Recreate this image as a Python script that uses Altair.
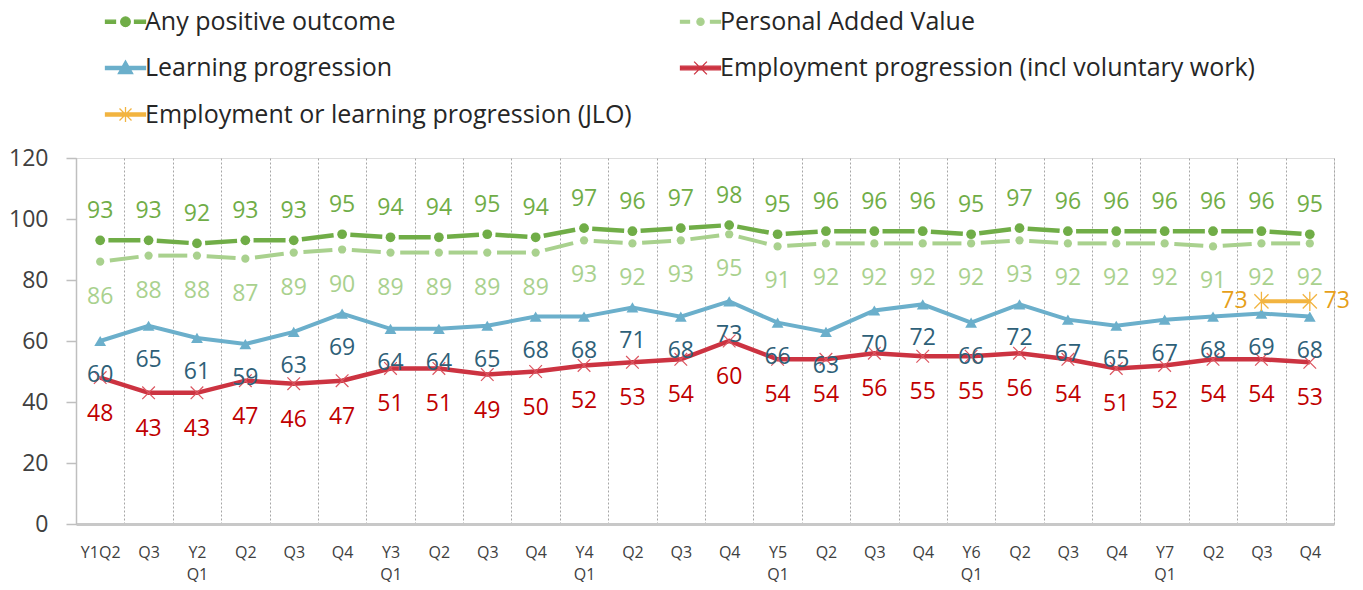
import json
import altair as alt
import pandas as pd

# ---------------- data ----------------
x_labels = ["Y1Q2", "Q3", "Y2|Q1", "Q2", "Q3", "Q4", "Y3|Q1", "Q2", "Q3", "Q4",
            "Y4|Q1", "Q2", "Q3", "Q4", "Y5|Q1", "Q2", "Q3", "Q4", "Y6|Q1", "Q2",
            "Q3", "Q4", "Y7|Q1", "Q2", "Q3", "Q4"]

series_names = ["Any positive outcome", "Personal Added Value", "Learning progression",
                "Employment progression (incl voluntary work)",
                "Employment or learning progression (JLO)"]

any_positive = [93, 93, 92, 93, 93, 95, 94, 94, 95, 94, 97, 96, 97, 98, 95, 96, 96, 96, 95, 97, 96, 96, 96, 96, 96, 95]
pav = [86, 88, 88, 87, 89, 90, 89, 89, 89, 89, 93, 92, 93, 95, 91, 92, 92, 92, 92, 93, 92, 92, 92, 91, 92, 92]
learning = [60, 65, 61, 59, 63, 69, 64, 64, 65, 68, 68, 71, 68, 73, 66, 63, 70, 72, 66, 72, 67, 65, 67, 68, 69, 68]
employment = [48, 43, 43, 47, 46, 47, 51, 51, 49, 50, 52, 53, 54, 60, 54, 54, 56, 55, 55, 56, 54, 51, 52, 54, 54, 53]
jlo_idx = [24, 25]
jlo = [73, 73]
jlo_label_side = ["left", "right"]

line_colors = ["#70AD47", "#A9D18E", "#6BAFCB", "#CC3341", "#F2B440"]
label_colors = ["#70AD47", "#A9D18E", "#2E6078", "#C00000", "#E69F1A"]

FONT = "Open Sans"
W, H = 1258, 366

# ---------------- tables ----------------
def series_df(name, values, idxs=None):
    idxs = list(range(len(values))) if idxs is None else idxs
    return pd.DataFrame({"idx": idxs, "value": values, "series": name})

def segments_df(name, values):
    rows = []
    for k in range(len(values) - 1):
        rows.append({"seg": k, "idx": k, "value": values[k], "series": name})
        rows.append({"seg": k, "idx": k + 1, "value": values[k + 1], "series": name})
    return pd.DataFrame(rows)

d_any = series_df(series_names[0], any_positive)
d_pav = series_df(series_names[1], pav)
d_learn = series_df(series_names[2], learning)
d_emp = series_df(series_names[3], employment)
d_jlo = series_df(series_names[4], jlo, jlo_idx)
d_jlo["side"] = jlo_label_side
d_all = pd.concat([d_any, d_pav, d_learn, d_emp, d_jlo], ignore_index=True)

label_expr = ("isValid(datum.value) && datum.value < " + str(len(x_labels)) +
              " ? split(" + json.dumps(x_labels) + "[datum.value], '|') : ''")

x = alt.X(
    "idx:O",
    scale=alt.Scale(type="band", domain=list(range(len(x_labels))), paddingInner=0, paddingOuter=0),
    axis=alt.Axis(
        title=None, labelExpr=label_expr, labelAngle=0, tickBand="extent",
        grid=True, gridDash=[2, 2], gridColor="#A6A6A6", gridWidth=1,
        ticks=False, domainColor="#C8C8C8", domainWidth=3,
        labelFontSize=16, labelPadding=20, labelLineHeight=22, labelColor="#404040",
        labelFont=FONT,
    ),
)
y = alt.Y(
    "value:Q",
    scale=alt.Scale(domain=[0, 120], nice=False),
    axis=alt.Axis(
        title=None, values=[0, 20, 40, 60, 80, 100, 120], grid=False,
        domainColor="#BFBFBF", domainWidth=1.5, tickColor="#BFBFBF", tickWidth=1.5,
        tickSize=10, labelFontSize=23, labelPadding=18, labelColor="#404040",
        labelFont=FONT,
    ),
)

cross_path = "M-1,-1L1,1M-1,1L1,-1"
star_path = "M-1,-1L1,1M-1,1L1,-1M0,-1.35L0,1.35"

# legend order (legend fills column by column: 3 rows x 2 columns)
legend_order = [0, 2, 4, 1, 3]
legend_paths_by_series = [
    "M-2,-0.16H-1V0.16H-2Z M0.9,-0.16H2V0.16H0.9Z M-0.48,0A0.48,0.48,0,1,1,0.48,0A0.48,0.48,0,1,1,-0.48,0Z",
    "M-2,-0.14H-1.1V0.14H-2Z M1,-0.14H2V0.14H1Z M-0.36,0A0.36,0.36,0,1,1,0.36,0A0.36,0.36,0,1,1,-0.36,0Z",
    "M-2,-0.16H2V0.16H-2Z M0,-0.72L0.72,0.56H-0.72Z",
    "M-2,-0.18H2V0.18H-2Z M-0.64,-0.64L0.64,0.64M-0.64,0.64L0.64,-0.64",
    "M-2,-0.16H2V0.16H-2Z M-0.6,-0.6L0.6,0.6M-0.6,0.6L0.6,-0.6M0,-0.76L0,0.76",
]
leg_domain = [series_names[i] for i in legend_order]
leg_colors = [line_colors[i] for i in legend_order]
leg_paths = [legend_paths_by_series[i] for i in legend_order]

layers = []

# Any positive outcome (dashed, per-segment dash like Excel)
layers.append(alt.Chart(segments_df(series_names[0], any_positive)).mark_line(
    color=line_colors[0], strokeWidth=4.5, strokeDash=[32, 16.4], strokeDashOffset=40.2
).encode(x=x, y=y, detail="seg:N"))
layers.append(alt.Chart(d_any).mark_circle(size=95, color=line_colors[0], opacity=1).encode(x=x, y=y))

# Personal Added Value
layers.append(alt.Chart(segments_df(series_names[1], pav)).mark_line(
    color=line_colors[1], strokeWidth=4, strokeDash=[29, 19.4], strokeDashOffset=38.7
).encode(x=x, y=y, detail="seg:N"))
layers.append(alt.Chart(d_pav).mark_circle(size=68, color=line_colors[1], opacity=1).encode(x=x, y=y))

# Learning progression
layers.append(alt.Chart(d_learn).mark_line(color=line_colors[2], strokeWidth=4).encode(x=x, y=y))
layers.append(alt.Chart(d_learn).mark_point(shape="triangle-up", filled=True, size=140,
                                            color=line_colors[2], opacity=1).encode(x=x, y=y))

# Employment progression
layers.append(alt.Chart(d_emp).mark_line(color=line_colors[3], strokeWidth=4.5).encode(x=x, y=y))
layers.append(alt.Chart(d_emp).mark_point(shape=cross_path, filled=False, size=160, strokeWidth=1.2,
                                          color="#DB5560", opacity=1).encode(x=x, y=y))

# JLO
layers.append(alt.Chart(d_jlo).mark_line(color=line_colors[4], strokeWidth=4).encode(x=x, y=y))
layers.append(alt.Chart(d_jlo).mark_point(shape=star_path, filled=False, size=200, strokeWidth=1.3,
                                          color=line_colors[4], opacity=1).encode(x=x, y=y))

# Legend (a layer with no drawn marks, carrying the legend via explicit scale domains)
leg = alt.Legend(
    title=None, orient="none", legendX=37, legendY=-149, columns=2, columnPadding=45,
    rowPadding=20.5, labelFont=FONT, labelFontSize=25, labelColor="#262626", labelLimit=800,
    labelOffset=7, symbolSize=400, symbolStrokeWidth=1.3, padding=0, symbolOpacity=1,
)
layers.append(alt.Chart(d_all).transform_filter("false").mark_point(
    filled=True, opacity=1, strokeWidth=1.3
).encode(
    x=x, y=y,
    fill=alt.Fill("series:N", scale=alt.Scale(domain=leg_domain, range=leg_colors), legend=leg),
    stroke=alt.Stroke("series:N", scale=alt.Scale(domain=leg_domain, range=leg_colors), legend=leg),
    shape=alt.Shape("series:N", scale=alt.Scale(domain=leg_domain, range=leg_paths), legend=leg),
))

# Data labels
text_kw = dict(fontSize=23, font=FONT, baseline="middle", align="center")
layers.append(alt.Chart(d_any).mark_text(dy=-29, color=label_colors[0], **text_kw).encode(x=x, y=y, text="value:Q"))
layers.append(alt.Chart(d_pav).mark_text(dy=35, color=label_colors[1], **text_kw).encode(x=x, y=y, text="value:Q"))
layers.append(alt.Chart(d_learn).mark_text(dy=34, color=label_colors[2], **text_kw).encode(x=x, y=y, text="value:Q"))
layers.append(alt.Chart(d_emp).mark_text(dy=36, color=label_colors[3], **text_kw).encode(x=x, y=y, text="value:Q"))
layers.append(alt.Chart(d_jlo).transform_filter("datum.side == 'left'").mark_text(
    dx=-27, color=label_colors[4], **text_kw).encode(x=x, y=y, text="value:Q"))
layers.append(alt.Chart(d_jlo).transform_filter("datum.side == 'right'").mark_text(
    dx=27, color=label_colors[4], **text_kw).encode(x=x, y=y, text="value:Q"))

chart = alt.layer(*layers).properties(
    width=W, height=H, padding={"top": 1, "left": 0, "right": 0, "bottom": 0}
).configure_view(stroke=None).configure(font=FONT)

chart.save("out.html", embed_options={"renderer": "svg", "actions": False})
